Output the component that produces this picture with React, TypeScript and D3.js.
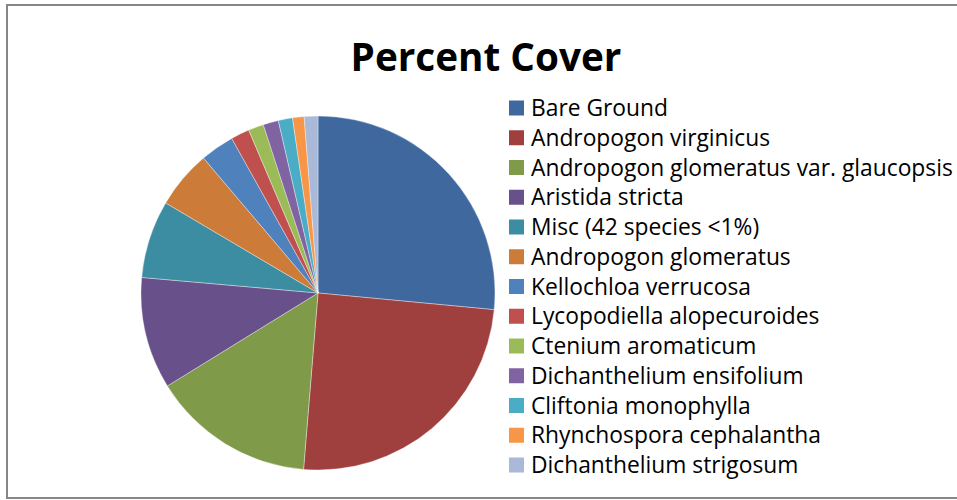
import React from "react";
import * as d3 from "d3";

const categories = [
  "Bare Ground",
  "Andropogon virginicus",
  "Andropogon glomeratus var. glaucopsis",
  "Aristida stricta",
  "Misc (42 species <1%)",
  "Andropogon glomeratus",
  "Kellochloa verrucosa",
  "Lycopodiella alopecuroides",
  "Ctenium aromaticum",
  "Dichanthelium ensifolium",
  "Cliftonia monophylla",
  "Rhynchospora cephalantha",
  "Dichanthelium strigosum",
];
const values = [26.5, 24.8, 14.9, 10.2, 7.1, 5.3, 3.1, 1.7, 1.4, 1.4, 1.3, 1.05, 1.25];
const colors = [
  "#3F699E", "#A0403E", "#7F9A48", "#68518A", "#3D8DA2", "#CC7B38",
  "#4F81BD", "#C0504D", "#9BBB59", "#8064A2", "#4BACC6", "#F79646", "#AAB9D7",
];
const title = "Percent Cover";

export default function App() {
  const cx = 318, cy = 293, r = 177;
  const pie = d3.pie<number>().sort(null).value((d) => d);
  const arcs = pie(values);
  const arcGen = d3.arc<d3.PieArcDatum<number>>().innerRadius(0).outerRadius(r);
  const legendY = d3.scaleLinear().domain([0, categories.length - 1]).range([108, 465]);
  return (
    <svg
      width={957}
      height={500}
      style={{ position: "absolute", left: 0, top: 0, background: "#fff", fontVariantLigatures: "none" }}
      fontFamily="'Open Sans', sans-serif"
    >
      <rect x={7} y={5} width={960} height={493} fill="#fff" stroke="#868686" strokeWidth={2} />
      <text x={486} y={71} textAnchor="middle" fontSize={38.7} fontWeight="bold" fill="#000">
        {title}
      </text>
      <g transform={`translate(${cx},${cy})`}>
        {arcs.map((a, i) => (
          <path key={i} d={arcGen(a) || ""} fill={colors[i]} stroke="#ffffff" strokeOpacity={0.6} strokeWidth={0.6} />
        ))}
      </g>
      <g>
        {categories.map((c, i) => (
          <g key={c} transform={`translate(509,${legendY(i)})`}>
            <rect x={0} y={-7.5} width={15} height={15} fill={colors[i]} />
            <text x={22} y={0} dy="0.36em" fontSize={22.8} fill="#000">
              {c}
            </text>
          </g>
        ))}
      </g>
    </svg>
  );
}
